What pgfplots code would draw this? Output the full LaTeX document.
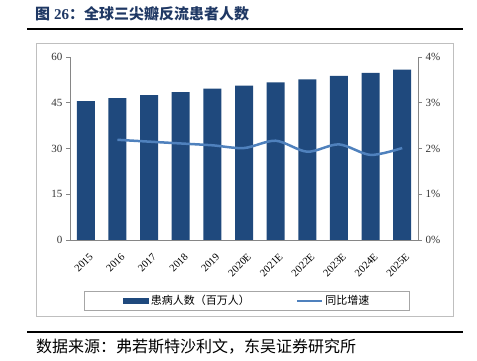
\documentclass[border=0pt]{standalone}
\usepackage{fontspec}
\setmainfont{Liberation Serif}
\newfontfamily\cjk{Noto Sans CJK SC}
\usepackage{pgfplots}
\pgfplotsset{compat=1.18}
\definecolor{barblue}{HTML}{1F497D}
\definecolor{lineblue}{HTML}{4F81BD}
\definecolor{titleblue}{HTML}{1F3864}
\definecolor{axgray}{HTML}{868686}
\begin{document}
\begin{tikzpicture}[x=1pt,y=1pt]
\useasboundingbox (0,0) rectangle (477,361);
% title
\node[anchor=base west,inner sep=0pt,text=titleblue] at (35,341) {\fontsize{15}{17}\selectfont\cjk\bfseries 图\hspace{4pt}\textrm{\bfseries 26}：全球三尖瓣反流患者人数};
\draw[line width=1.6pt] (27,332) -- (463,332);
% frame
\draw[color=black!25,line width=0.6pt] (36,318) rectangle (453,45);
% bottom rule + source
\draw[line width=1.6pt] (27,29) -- (463,29);
\node[anchor=base west,inner sep=0pt] at (36,8) {\fontsize{16}{18}\selectfont\cjk 数据来源：弗若斯特沙利文，东吴证券研究所};
\begin{axis}[
  at={(70pt,121pt)}, anchor=south west,
  scale only axis, width=348pt, height=183pt,
  ymin=0, ymax=60, ytick={0,15,30,45,60},
  xmin=-0.5, xmax=10.5,
  xtick={0,...,10},
  xticklabels={2015,2016,2017,2018,2019,2020E,2021E,2022E,2023E,2024E,2025E},
  xticklabel style={rotate=45, anchor=north east, font=\fontsize{10.5}{12}\selectfont, inner sep=0pt, yshift=-8pt, xshift=-4pt},
  yticklabel style={font=\fontsize{11}{12}\selectfont, text=black!80},
  /pgf/number format/assume math mode=true,
  axis x line*=bottom, axis y line*=left,
  axis line style={axgray, line width=0.8pt},
  x axis line style={-}, y axis line style={-},
  major tick length=4pt,
  xtick style={draw=none},
  ytick style={axgray, line width=0.8pt},
  tick align=outside,
]
\addplot[ybar, bar width=18pt, fill=barblue, draw=none] coordinates {
(0,45.5) (1,46.5) (2,47.5) (3,48.5) (4,49.6) (5,50.6) (6,51.7) (7,52.7) (8,53.8) (9,54.8) (10,55.9)};
\end{axis}
\begin{axis}[
  at={(70pt,121pt)}, anchor=south west,
  scale only axis, width=348pt, height=183pt,
  ymin=0, ymax=4, ytick={0,1,2,3,4},
  yticklabel={\pgfmathprintnumber{\tick}\%},
  yticklabel style={font=\fontsize{11}{12}\selectfont, text=black!80},
  /pgf/number format/assume math mode=true,
  xmin=-0.5, xmax=10.5, xtick=\empty,
  axis x line=none, axis y line*=right,
  axis line style={axgray, line width=0.8pt, -},
  major tick length=4pt, tick align=outside,
  ytick style={axgray, line width=0.8pt},
  legend style={at={(0.509,-0.333)}, anchor=center, draw=black!35, line width=1pt,
    inner xsep=38pt, inner ysep=2pt, font=\cjk\fontsize{11}{12}\selectfont, legend columns=2,
    /tikz/every even column/.append style={column sep=44pt}},
  legend cell align=left,
]
\addlegendimage{legend image code/.code={\fill[barblue] (0pt,-2.5pt) rectangle (25pt,2.5pt);}}
\addlegendentry{患病人数（百万人）}
\addlegendimage{legend image code/.code={\draw[lineblue, line width=2.5pt] (0pt,0pt) -- (25pt,0pt);}}
\addlegendentry{同比增速}
\addplot[lineblue, line width=2.5pt, smooth, tension=0.5, forget plot] coordinates {
(1,2.19) (2,2.15) (3,2.11) (4,2.07) (5,2.01) (6,2.17) (7,1.93) (8,2.09) (9,1.86) (10,2.01)};
\end{axis}
\end{tikzpicture}
\end{document}
